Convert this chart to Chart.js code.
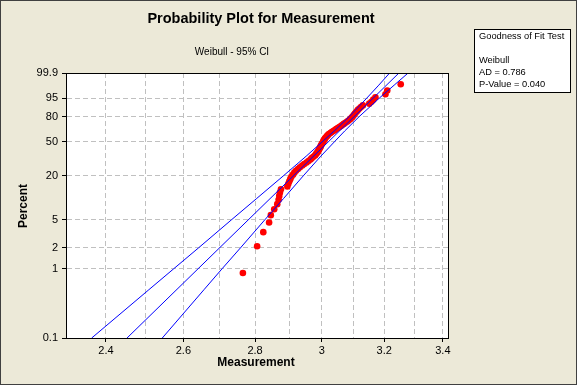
<!DOCTYPE html>
<html>
<head>
<meta charset="utf-8">
<script src="https://cdn.jsdelivr.net/npm/chart.js@4.4.1/dist/chart.umd.min.js"></script>
<style>
  html, body { margin: 0; padding: 0; background: #ECE9D8; }
  canvas { display: block; }
</style>
</head>
<body>
<canvas id="myChart" width="577" height="385"></canvas>
<script>
var measurement = [
    2.765, 2.806, 2.824, 2.841, 2.846, 2.856, 2.865, 2.869, 2.871, 2.873,
    2.876, 2.895, 2.898, 2.901, 2.904, 2.907, 2.912, 2.916, 2.921, 2.927,
    2.933, 2.940, 2.946, 2.953, 2.959, 2.965, 2.969, 2.974, 2.979, 2.982,
    2.985, 2.988, 2.990, 2.992, 2.994, 2.996, 2.997, 2.999, 3.001, 3.003,
    3.005, 3.006, 3.009, 3.010, 3.013, 3.016, 3.019, 3.022, 3.027, 3.031,
    3.036, 3.041, 3.045, 3.050, 3.055, 3.060, 3.064, 3.069, 3.074, 3.079,
    3.083, 3.088, 3.091, 3.095, 3.098, 3.101, 3.104, 3.107, 3.111, 3.114,
    3.119, 3.124, 3.130, 3.151, 3.158, 3.164, 3.171, 3.204, 3.210, 3.255
];

// fitted Weibull line (percent -> measurement)
var fitPercents = [0.1, 99.9];
var fitValues = [2.453, 3.249];

// 95% confidence bounds
var ciPercents = [0.1, 0.5, 1, 2, 5, 10, 20, 35, 50, 63.2, 80, 90, 95, 99, 99.9];
var ciLower = [2.365, 2.509, 2.574, 2.641, 2.732, 2.805, 2.883, 2.952, 3.001, 3.039, 3.086, 3.119, 3.143, 3.182, 3.218];
var ciUpper = [2.544, 2.656, 2.706, 2.758, 2.828, 2.884, 2.943, 2.997, 3.039, 3.072, 3.118, 3.156, 3.184, 3.233, 3.280];

// axes
var yTickPercents = [0.1, 1, 2, 5, 20, 50, 80, 95, 99.9];
var yTickLabels = ['0.1', '1', '2', '5', '20', '50', '80', '95', '99.9'];
var xGridValues = [2.4, 2.5, 2.6, 2.7, 2.8, 2.9, 3.0, 3.1, 3.2, 3.3, 3.4];
var xLabelValues = [2.4, 2.6, 2.8, 3.0, 3.2, 3.4];
var xMin = 2.303, xMax = 3.418;

var goodnessLines = ['Weibull', 'AD = 0.786', 'P-Value = 0.040'];

// Weibull probability scale
function weib(p) { return Math.log(-Math.log(1 - p / 100)); }

// median rank plotting positions
var n = measurement.length;
var points = measurement.map(function(v, i) {
    return { x: v, y: weib(100 * (i + 1 - 0.3) / (n + 0.4)) };
});
var fitLine = fitPercents.map(function(p, i) { return { x: fitValues[i], y: weib(p) }; });
var lowerLine = ciPercents.map(function(p, i) { return { x: ciLower[i], y: weib(p) }; });
var upperLine = ciPercents.map(function(p, i) { return { x: ciUpper[i], y: weib(p) }; });

var textFont = '"Liberation Sans", Arial, sans-serif';

var decorPlugin = {
    id: 'decor',
    beforeDraw: function(chart) {
        var c = chart.ctx, a = chart.chartArea;
        c.save();
        c.fillStyle = '#ECE9D8';
        c.fillRect(0, 0, chart.width, chart.height);
        c.fillStyle = '#ffffff';
        c.fillRect(a.left, a.top, a.right - a.left, a.bottom - a.top);
        c.restore();
    },
    afterDraw: function(chart) {
        var c = chart.ctx, a = chart.chartArea;
        c.save();
        // plot frame
        c.strokeStyle = '#000';
        c.lineWidth = 1;
        c.strokeRect(a.left + 0.5, a.top + 0.5, a.right - a.left, a.bottom - a.top);

        // titles
        c.fillStyle = '#000';
        c.textAlign = 'center';
        c.textBaseline = 'middle';
        c.font = 'bold 14.5px ' + textFont;
        c.fillText('Probability Plot for Measurement', 261, 19);
        c.font = '10px ' + textFont;
        c.fillText('Weibull - 95% CI', 232, 52);
        c.font = 'bold 12px ' + textFont;
        c.fillText('Measurement', 256, 363);
        c.save();
        c.translate(24, 206);
        c.rotate(-Math.PI / 2);
        c.fillText('Percent', 0, 0);
        c.restore();

        // goodness of fit box
        c.fillStyle = '#fff';
        c.fillRect(474.5, 29.5, 96, 63);
        c.strokeRect(474.5, 29.5, 96, 63);
        c.fillStyle = '#000';
        c.textAlign = 'left';
        c.font = '9.3px ' + textFont;
        c.fillText('Goodness of Fit Test', 479, 36);
        goodnessLines.forEach(function(t, i) { c.fillText(t, 479, 60 + i * 12); });

        // outer frame
        c.strokeStyle = '#404040';
        c.strokeRect(0.5, 0.5, chart.width - 1, chart.height - 1);
        c.restore();
    }
};

var ctx = document.getElementById('myChart').getContext('2d');
var myChart = new Chart(ctx, {
    type: 'scatter',
    data: {
        datasets: [
            { data: fitLine, showLine: true, borderColor: '#0000ff', borderWidth: 1, pointRadius: 0, order: 0 },
            { data: lowerLine, showLine: true, borderColor: '#0000ff', borderWidth: 1, pointRadius: 0, order: 0 },
            { data: upperLine, showLine: true, borderColor: '#0000ff', borderWidth: 1, pointRadius: 0, order: 0 },
            { data: points, pointRadius: 3.3, pointBackgroundColor: '#ff0000', pointBorderWidth: 0, order: 1 }
        ]
    },
    options: {
        responsive: false,
        animation: false,
        layout: { padding: { left: 0, top: 73, right: 129, bottom: 0 } },
        plugins: { legend: { display: false }, tooltip: { enabled: false } },
        scales: {
            x: {
                type: 'logarithmic',
                min: xMin,
                max: xMax,
                afterBuildTicks: function(s) { s.ticks = xGridValues.map(function(v) { return { value: v }; }); },
                afterFit: function(s) { s.height = 47; },
                ticks: {
                    autoSkip: false,
                    maxRotation: 0,
                    padding: 2,
                    color: '#000',
                    font: { family: textFont, size: 11 },
                    callback: function(v) {
                        var lab = xLabelValues.some(function(l) { return Math.abs(l - v) < 1e-6; });
                        return lab ? String(Math.round(v * 10) / 10) : '';
                    }
                },
                grid: {
                    color: '#c0c0c0',
                    tickLength: 4,
                    tickColor: function(ctx) {
                        var v = ctx.tick ? ctx.tick.value : 0;
                        return xLabelValues.some(function(l) { return Math.abs(l - v) < 1e-6; }) ? '#000' : 'rgba(0,0,0,0)';
                    }
                },
                border: { color: '#000', dash: [5, 3] }
            },
            y: {
                min: weib(0.1),
                max: weib(99.9),
                afterBuildTicks: function(s) { s.ticks = yTickPercents.map(function(p) { return { value: weib(p) }; }); },
                afterFit: function(s) { s.width = 66; },
                ticks: {
                    padding: 4,
                    color: '#000',
                    font: { family: textFont, size: 11 },
                    callback: function(v, i) { return yTickLabels[i]; }
                },
                grid: { color: '#c0c0c0', tickLength: 4, tickColor: '#000' },
                border: { color: '#000', dash: [5, 3] }
            }
        }
    },
    plugins: [decorPlugin]
});
</script>
</body>
</html>
